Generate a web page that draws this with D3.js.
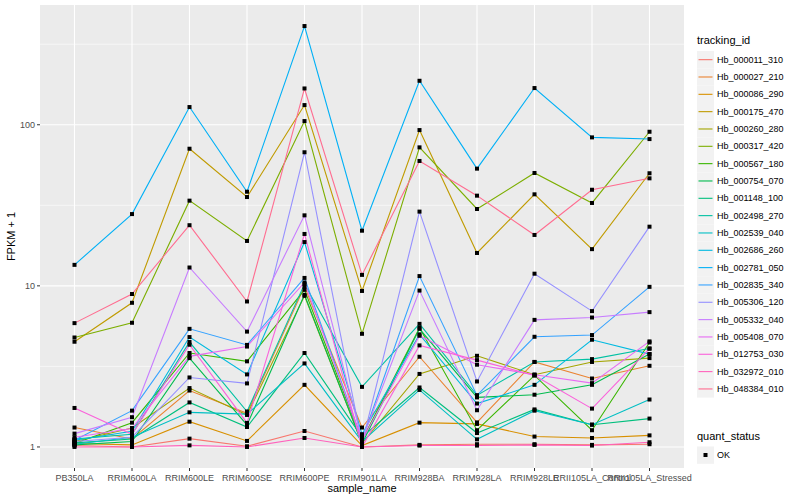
<!DOCTYPE html>
<html lang="en">
<head>
<meta charset="UTF-8">
<title>FPKM by sample</title>
<script src="https://d3js.org/d3.v7.min.js"></script>
<style>
body { margin: 0; background: #fff; }
text { font-family: "Liberation Sans", Arial, sans-serif; }
</style>
</head>
<body>
<div id="chart"></div>
<script>
const samples = ["PB350LA", "RRIM600LA", "RRIM600LE", "RRIM600SE", "RRIM600PE", "RRIM901LA",
                 "RRIM928BA", "RRIM928LA", "RRIM928LE", "RRII105LA_Control", "RRII105LA_Stressed"];

const trackingIds = ["Hb_000011_310", "Hb_000027_210", "Hb_000086_290", "Hb_000175_470", "Hb_000260_280",
                     "Hb_000317_420", "Hb_000567_180", "Hb_000754_070", "Hb_001148_100", "Hb_002498_270",
                     "Hb_002539_040", "Hb_002686_260", "Hb_002781_050", "Hb_002835_340", "Hb_005306_120",
                     "Hb_005332_040", "Hb_005408_070", "Hb_012753_030", "Hb_032972_010", "Hb_048384_010"];

// FPKM + 1, one row per tracking id, one value per sample
const fpkm = [
    [1.02, 1.0, 1.126, 1.01, 1.256, 1.0, 1.03, 1.04, 1.04, 1.03, 1.04],
    [1.32, 1.12, 2.24, 1.62, 9.9, 1.32, 3.63, 1.42, 3.37, 2.66, 3.19],
    [1.05, 1.03, 1.435, 1.09, 2.43, 1.02, 1.415, 1.39, 1.16, 1.137, 1.18],
    [4.5, 7.85, 71, 35.6, 132.5, 9.3, 92.7, 16, 37, 16.9, 50],
    [1.08, 1.31, 2.32, 1.58, 8.67, 1.05, 2.84, 3.68, 2.81, 3.37, 3.56],
    [4.78, 5.9, 33.8, 19, 105.4, 5.04, 72.4, 30, 50.2, 32.7, 90.5],
    [1.05, 1.415, 3.83, 3.40, 9.45, 1.1, 5.49, 1.27, 2.78, 1.27, 4.45],
    [1.03, 1.08, 3.56, 1.37, 8.8, 1.05, 5.41, 2.03, 2.11, 2.43, 3.77],
    [1.06, 1.12, 1.89, 1.33, 3.83, 1.15, 2.34, 1.22, 1.71, 1.375, 1.50],
    [1.12, 1.2, 4.48, 1.66, 10.25, 2.36, 5.81, 2.09, 3.37, 3.51, 4.08],
    [1.04, 1.15, 1.64, 1.60, 3.30, 1.08, 2.26, 1.115, 1.68, 1.375, 1.97],
    [1.1, 1.25, 4.81, 2.82, 18.7, 1.2, 5.0, 1.86, 2.43, 4.63, 3.77],
    [13.5, 27.9, 128.8, 38.4, 410, 22, 187.5, 53.4, 169, 83.5, 81.5],
    [1.1, 1.68, 5.41, 4.3, 11.2, 1.1, 11.5, 2.09, 4.83, 4.95, 9.86],
    [1.08, 1.15, 2.70, 2.48, 67.5, 1.05, 28.9, 2.55, 11.9, 6.97, 23.3],
    [1.21, 1.53, 13.0, 5.2, 27.4, 1.1, 9.35, 1.69, 6.15, 6.36, 6.87],
    [1.15, 1.3, 3.65, 4.2, 10.5, 1.1, 4.9, 3.24, 2.81, 2.49, 4.52],
    [1.746, 1.2, 4.31, 1.41, 21, 1.0, 4.27, 3.46, 2.78, 1.73, 4.08],
    [1.0, 1.0, 1.023, 1.0, 1.137, 1.0, 1.02, 1.02, 1.03, 1.02, 1.07],
    [5.87, 8.9, 23.8, 8.0, 168, 11.7, 59.6, 36.3, 20.7, 39.5, 46.5]
];

const yTicks = [1, 10, 100];
const yMinor = [Math.sqrt(10), Math.sqrt(1000), Math.sqrt(100000)];

// ggplot default hue palette for 20 levels
const palette = ["#F8766D", "#EA8331", "#D89000", "#C09B00", "#A3A500", "#7CAE00", "#39B600", "#00BB4E",
                 "#00BF7D", "#00C1A3", "#00BFC4", "#00BAE0", "#00B0F6", "#35A2FF", "#9590FF", "#C77CFF",
                 "#E76BF3", "#FA62DB", "#FF62BC", "#FF6C90"];

const width = 800, height = 500;
const panel = {left: 40, right: 684, top: 5, bottom: 468};

const svg = d3.select("#chart").append("svg")
    .attr("width", width)
    .attr("height", height);

const x = d3.scalePoint()
    .domain(samples)
    .range([panel.left, panel.right])
    .padding(0.6);

const all = fpkm.flat();
const lo = Math.log10(d3.min(all)), hi = Math.log10(d3.max(all));
const pad = (hi - lo) * 0.05;
const y = d3.scaleLog()
    .domain([Math.pow(10, lo - pad), Math.pow(10, hi + pad)])
    .range([panel.bottom, panel.top]);

const color = d3.scaleOrdinal().domain(trackingIds).range(palette);

// panel background + grid
svg.append("rect")
    .attr("x", panel.left).attr("y", panel.top)
    .attr("width", panel.right - panel.left).attr("height", panel.bottom - panel.top)
    .attr("fill", "#EBEBEB");

svg.selectAll("line.minor").data(yMinor).enter().append("line")
    .attr("x1", panel.left).attr("x2", panel.right)
    .attr("y1", d => y(d)).attr("y2", d => y(d))
    .attr("stroke", "#fff").attr("stroke-width", 0.55);

svg.selectAll("line.hmajor").data(yTicks).enter().append("line")
    .attr("x1", panel.left).attr("x2", panel.right)
    .attr("y1", d => y(d)).attr("y2", d => y(d))
    .attr("stroke", "#fff").attr("stroke-width", 1.1);

svg.selectAll("line.vmajor").data(samples).enter().append("line")
    .attr("x1", d => x(d)).attr("x2", d => x(d))
    .attr("y1", panel.top).attr("y2", panel.bottom)
    .attr("stroke", "#fff").attr("stroke-width", 1.1);

// lines
const series = trackingIds.map((id, i) => ({
    id: id,
    values: samples.map((s, j) => ({sample: s, value: fpkm[i][j]}))
}));

const line = d3.line()
    .x(d => x(d.sample))
    .y(d => y(d.value));

svg.selectAll("path.series").data(series).enter().append("path")
    .attr("fill", "none")
    .attr("stroke", d => color(d.id))
    .attr("stroke-width", 1.1)
    .attr("d", d => line(d.values));

// points
const pts = series.flatMap(d => d.values);
svg.selectAll("rect.pt").data(pts).enter().append("rect")
    .attr("x", d => x(d.sample) - 2)
    .attr("y", d => y(d.value) - 2)
    .attr("width", 4).attr("height", 4)
    .attr("fill", "#000");

// axes
const axisColor = "#333333";
const labelColor = "#4D4D4D";

svg.selectAll("line.ytick").data(yTicks).enter().append("line")
    .attr("x1", panel.left - 3).attr("x2", panel.left)
    .attr("y1", d => y(d)).attr("y2", d => y(d))
    .attr("stroke", axisColor).attr("stroke-width", 1);

svg.selectAll("text.ytick").data(yTicks).enter().append("text")
    .attr("x", panel.left - 5)
    .attr("y", d => y(d))
    .attr("dy", "0.35em")
    .attr("text-anchor", "end")
    .attr("font-size", 9)
    .attr("fill", labelColor)
    .text(d => d);

svg.selectAll("line.xtick").data(samples).enter().append("line")
    .attr("x1", d => x(d)).attr("x2", d => x(d))
    .attr("y1", panel.bottom).attr("y2", panel.bottom + 3)
    .attr("stroke", axisColor).attr("stroke-width", 1);

svg.selectAll("text.xtick").data(samples).enter().append("text")
    .attr("x", d => x(d))
    .attr("y", panel.bottom + 13)
    .attr("text-anchor", "middle")
    .attr("font-size", 9)
    .attr("fill", labelColor)
    .text(d => d);

svg.append("text")
    .attr("x", (panel.left + panel.right) / 2)
    .attr("y", 492)
    .attr("text-anchor", "middle")
    .attr("font-size", 11)
    .attr("fill", "#000")
    .text("sample_name");

svg.append("text")
    .attr("transform", `translate(15, ${(panel.top + panel.bottom) / 2}) rotate(-90)`)
    .attr("text-anchor", "middle")
    .attr("font-size", 11)
    .attr("fill", "#000")
    .text("FPKM + 1");

// legend: tracking_id
const lg = svg.append("g").attr("transform", "translate(697, 0)");
lg.append("text")
    .attr("x", 0).attr("y", 44)
    .attr("font-size", 11)
    .text("tracking_id");

const keyH = 17.33, key0 = 51;
const items = lg.selectAll("g.item").data(trackingIds).enter().append("g")
    .attr("transform", (d, i) => `translate(0, ${key0 + i * keyH})`);
items.append("rect")
    .attr("width", 17).attr("height", keyH)
    .attr("fill", "#F2F2F2");
items.append("line")
    .attr("x1", 1.5).attr("x2", 15.5)
    .attr("y1", keyH / 2).attr("y2", keyH / 2)
    .attr("stroke", d => color(d)).attr("stroke-width", 1.1);
items.append("text")
    .attr("x", 20).attr("y", keyH / 2)
    .attr("dy", "0.35em")
    .attr("font-size", 9)
    .text(d => d);

// legend: quant_status
lg.append("text")
    .attr("x", 0).attr("y", 440)
    .attr("font-size", 11)
    .text("quant_status");
lg.append("rect")
    .attr("x", 0).attr("y", 446.5)
    .attr("width", 17).attr("height", keyH)
    .attr("fill", "#F2F2F2");
lg.append("rect")
    .attr("x", 6.5).attr("y", 453)
    .attr("width", 4).attr("height", 4)
    .attr("fill", "#000");
lg.append("text")
    .attr("x", 20).attr("y", 446.5 + keyH / 2)
    .attr("dy", "0.35em")
    .attr("font-size", 9)
    .text("OK");
</script>
</body>
</html>
